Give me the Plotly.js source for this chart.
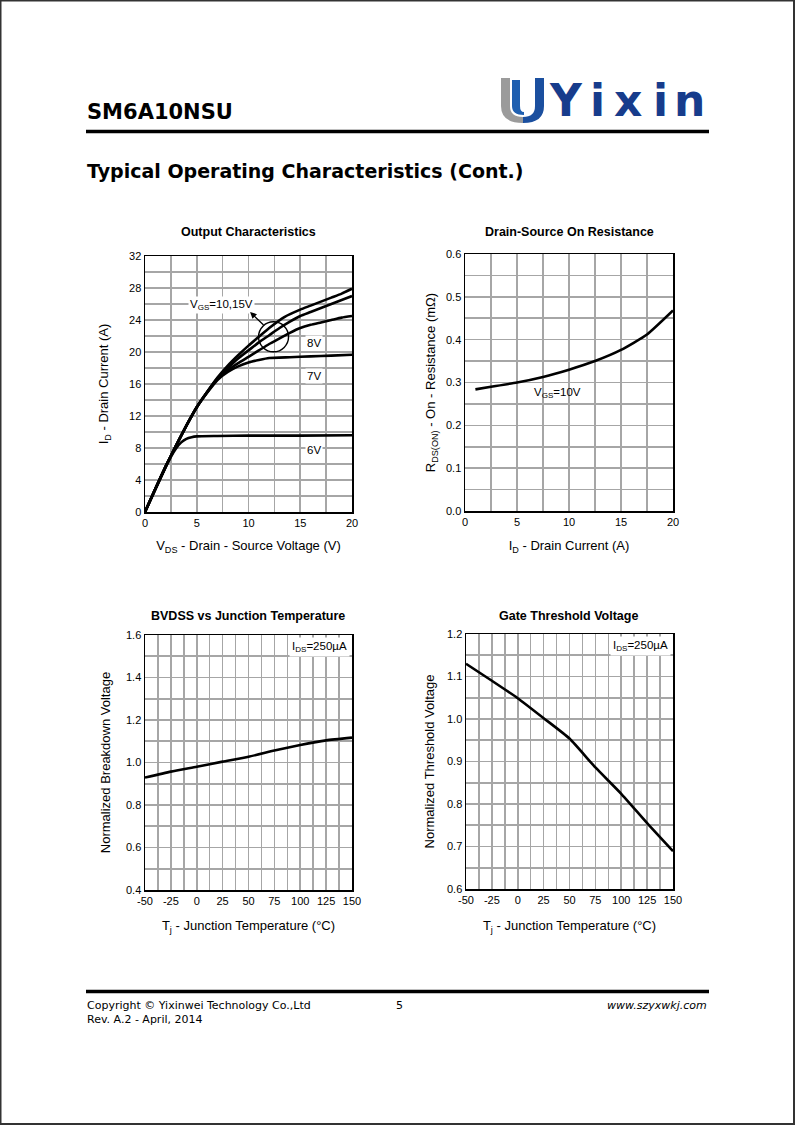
<!DOCTYPE html>
<html>
<head>
<meta charset="utf-8">
<script src="https://cdn.plot.ly/plotly-3.0.1.min.js"></script>
<style>
html,body{margin:0;padding:0;background:#fff;}
#chart{width:795px;height:1125px;}
</style>
</head>
<body>
<div id="chart"></div>
<script>
// ---------- DATA ----------
// Output Characteristics: VDS (V) vs ID (A)
const vds15 = [0, 1, 2, 3, 4, 5, 6, 7, 8, 9, 10, 11, 12, 13.5, 15, 16, 17, 18, 19, 20];
const id15  = [0, 2.9, 5.7, 8.3, 10.8, 13.1, 15.0, 16.8, 18.3, 19.6, 20.8, 21.9, 23.0, 24.4, 25.3, 25.8, 26.3, 26.8, 27.3, 27.9];
const vds10 = [0, 1, 2, 3, 4, 5, 6, 7, 8, 9, 10, 11, 12, 13, 14, 15, 16, 17, 18, 19, 20];
const id10  = [0, 2.9, 5.7, 8.3, 10.8, 13.1, 15.0, 16.7, 18.0, 19.2, 20.2, 21.2, 22.1, 23.0, 23.8, 24.5, 25.0, 25.5, 26.0, 26.5, 27.0];
const vds8  = [0, 1, 2, 3, 4, 5, 6, 7, 8, 9, 10, 11, 12, 13, 14, 15, 16, 17, 18, 19, 20];
const id8   = [0, 2.9, 5.7, 8.3, 10.8, 13.1, 14.95, 16.6, 17.7, 18.6, 19.4, 20.2, 21.0, 21.7, 22.4, 23.0, 23.4, 23.7, 24.0, 24.3, 24.5];
const vds7  = [0, 1, 2, 3, 4, 5, 6, 7, 8, 9, 10, 11, 12, 14, 16, 18, 20];
const id7   = [0, 2.9, 5.7, 8.3, 10.8, 13.1, 14.9, 16.5, 17.5, 18.2, 18.7, 19.0, 19.25, 19.35, 19.45, 19.55, 19.65];
const vds6  = [0, 1, 2, 2.5, 3, 3.5, 4, 4.5, 5, 7, 10, 15, 20];
const id6   = [0, 2.8, 5.6, 6.9, 7.95, 8.7, 9.15, 9.35, 9.45, 9.5, 9.55, 9.55, 9.6];
const outLabels = ["8V", "7V", "6V"];
const outLabelX = [16.3, 16.3, 16.3];
const outLabelY = [21.1, 17.0, 7.75];

// Drain-Source On Resistance: ID (A) vs RDS(ON)
const idRds  = [1, 2.5, 5, 7.5, 10, 12.5, 15, 17.5, 20];
const rdsOn  = [0.284, 0.290, 0.300, 0.313, 0.330, 0.350, 0.376, 0.412, 0.468];

// BVDSS vs Junction Temperature
const tjBv   = [-50, -25, 0, 25, 50, 75, 100, 125, 150];
const bvNorm = [0.929, 0.957, 0.980, 1.004, 1.027, 1.056, 1.082, 1.104, 1.117];

// Gate Threshold Voltage
const tjVth   = [-50, -25, 0, 25, 50, 75, 100, 125, 150];
const vthNorm = [1.130, 1.090, 1.049, 1.002, 0.954, 0.886, 0.824, 0.755, 0.689];

// Temperature tick labels (plain hyphen as in the original)
const tempTicks = [-50, -25, 0, 25, 50, 75, 100, 125, 150];
const tempTickText = ["-50", "-25", "0", "25", "50", "75", "100", "125", "150"];

// ---------- PAGE GEOMETRY ----------
const W = 795, H = 1125;
const px = x => x / W;
const py = y => 1 - y / H;

const FONT = "Liberation Sans, Arial, sans-serif";
const lineStyle = {color: "#000", width: 2.6, shape: "spline", smoothing: 0.5};

function trace(x, y, xa, ya) {
  return {x: x, y: y, xaxis: xa, yaxis: ya, mode: "lines", line: lineStyle, hoverinfo: "skip"};
}

const data = [
  trace(vds15, id15, "x", "y"),
  trace(vds10, id10, "x", "y"),
  trace(vds8, id8, "x", "y"),
  trace(vds7, id7, "x", "y"),
  trace(vds6, id6, "x", "y"),
  trace(idRds, rdsOn, "x2", "y2"),
  trace(tjBv, bvNorm, "x3", "y3"),
  trace(tjVth, vthNorm, "x4", "y4"),
];

function axis(domain, range, dtick, minor, extra) {
  return Object.assign({
    domain: domain, range: range, dtick: dtick, tick0: range[0],
    showgrid: true, gridcolor: "#a6a6a6", gridwidth: 1.6,
    minor: {dtick: minor, tick0: range[0], showgrid: true, gridcolor: "#a6a6a6", gridwidth: 1.6},
    showline: true, linecolor: "#000", linewidth: 1.5, mirror: true,
    zeroline: false, ticks: "", fixedrange: true,
    tickfont: {family: FONT, size: 11, color: "#000"},
  }, extra || {});
}
function title(text, standoff) {
  return {text: text, font: {family: FONT, size: 13, color: "#000"}, standoff: standoff};
}

const d1x = [px(145), px(352)], d1y = [py(512), py(256)];
const d2x = [px(465), px(673)], d2y = [py(511), py(254)];
const d3x = [px(145), px(352)], d3y = [py(890), py(635)];
const d4x = [px(466), px(673)], d4y = [py(889), py(634)];

const tempAxis = {tickmode: "array", tickvals: tempTicks, ticktext: tempTickText};

const layout = {
  width: W, height: H,
  margin: {l: 0, r: 0, t: 0, b: 0},
  paper_bgcolor: "#fff", plot_bgcolor: "#fff",
  showlegend: false,
  xaxis: axis(d1x, [0, 20], 5, 2.5, {anchor: "y", title: title("V<sub>DS</sub> - Drain - Source Voltage (V)", 13)}),
  yaxis: axis(d1y, [0, 32], 4, 2, {anchor: "x", title: title("I<sub>D</sub> - Drain Current (A)", 17)}),
  xaxis2: axis(d2x, [0, 20], 5, 2.5, {anchor: "y2", title: title("I<sub>D</sub> - Drain Current (A)", 14)}),
  yaxis2: axis(d2y, [0, 0.6], 0.1, 0.05, {anchor: "x2", tickformat: ".1f", title: title("R<sub>DS(ON)</sub> - On - Resistance (mΩ)", 7)}),
  xaxis3: axis(d3x, [-50, 150], 25, 12.5, Object.assign({anchor: "y3", title: title("T<sub>j</sub> - Junction Temperature (°C)", 15)}, tempAxis)),
  yaxis3: axis(d3y, [0.4, 1.6], 0.2, 0.1, {anchor: "x3", tickformat: ".1f", title: title("Normalized Breakdown Voltage", 12)}),
  xaxis4: axis(d4x, [-50, 150], 25, 12.5, Object.assign({anchor: "y4", title: title("T<sub>j</sub> - Junction Temperature (°C)", 16)}, tempAxis)),
  yaxis4: axis(d4y, [0.6, 1.2], 0.1, 0.05, {anchor: "x4", tickformat: ".1f", title: title("Normalized Threshold Voltage", 9)}),
  annotations: [],
  shapes: [],
};

const A = layout.annotations, S = layout.shapes;

function ptext(text, x, y, size, opts) {
  A.push(Object.assign({text: text, xref: "paper", yref: "paper", x: px(x), y: py(y),
    showarrow: false, xanchor: "left", yanchor: "middle",
    font: {family: FONT, size: size, color: "#000"}}, opts || {}));
}

// Chart titles
const chartTitles = ["Output Characteristics", "Drain-Source On Resistance", "BVDSS vs Junction Temperature", "Gate Threshold Voltage"];
const titleX = [248, 569, 248, 568], titleY = [232, 232, 616, 616];
chartTitles.forEach((t, i) => ptext("<b>" + t + "</b>", titleX[i], titleY[i], 12.5, {xanchor: "center"}));

// Curve labels (output characteristics)
outLabels.forEach((t, i) => A.push({text: t, xref: "x", yref: "y", x: outLabelX[i], y: outLabelY[i],
  showarrow: false, xanchor: "center", yanchor: "middle", bgcolor: "#fff",
  font: {family: FONT, size: 11.5, color: "#000"}}));
A.push({text: "V<sub>GS</sub>=10,15V", xref: "x", yref: "y", x: 4.15, y: 25.9, showarrow: false,
  xanchor: "left", yanchor: "middle", bgcolor: "#fff", font: {family: FONT, size: 11.5, color: "#000"}});
A.push({text: "", xref: "x", yref: "y", axref: "x", ayref: "y", x: 10.15, y: 25.0, ax: 11.6, ay: 23.2,
  showarrow: true, arrowhead: 2, arrowsize: 1, arrowwidth: 1.3, arrowcolor: "#000"});
S.push({type: "circle", xref: "x", yref: "y", x0: 12.42 - 1.45, x1: 12.42 + 1.45, y0: 21.9 - 1.875, y1: 21.9 + 1.875,
  line: {color: "#000", width: 1.4}});

A.push({text: "V<sub>GS</sub>=10V", xref: "x2", yref: "y2", x: 8.9, y: 0.276, showarrow: false,
  xanchor: "center", yanchor: "middle", font: {family: FONT, size: 11.5, color: "#000"}});

[0, 1].forEach(i => {
  const dom = i === 0 ? d3x : d4x, domy = i === 0 ? d3y : d4y;
  A.push({text: "I<sub>DS</sub>=250µA", xref: "paper", yref: "paper", x: dom[1] - px(2), y: domy[1] - 2 / H,
    showarrow: false, xanchor: "right", yanchor: "top", bgcolor: "#fff", borderpad: 2,
    font: {family: FONT, size: 11.5, color: "#000"}});
});

// Header / footer
const HFONT = "DejaVu Sans, Verdana, sans-serif";
ptext("<b>SM6A10NSU</b>", 85, 112, 21, {font: {family: HFONT, size: 21, color: "#000"}});
ptext("<b>Typical Operating Characteristics (Cont.)</b>", 85, 171, 19, {font: {family: HFONT, size: 19, color: "#000"}});
S.push({type: "line", xref: "paper", yref: "paper", x0: px(86), x1: px(709), y0: py(131.5), y1: py(131.5), line: {color: "#000", width: 3.5}});
S.push({type: "line", xref: "paper", yref: "paper", x0: px(86), x1: px(709), y0: py(991.5), y1: py(991.5), line: {color: "#000", width: 3.5}});
const FFONT = {family: HFONT, size: 11, color: "#000"};
ptext("Copyright © Yixinwei Technology Co.,Ltd", 85, 1005, 11, {font: FFONT});
ptext("Rev. A.2 - April, 2014", 85, 1019, 11, {font: FFONT});
ptext("5", 399, 1005, 11, {font: FFONT, xanchor: "center"});
ptext("<i>www.szyxwkj.com</i>", 709, 1005, 11, {font: FFONT, xanchor: "right"});

// Logo "Yixin"
const logoChars = ["Y", "i", "x", "i", "n"];
const logoX = [566, 597, 628, 660, 689];
const LOGO = {family: "DejaVu Sans, sans-serif", size: 44, color: "#173c8c", weight: "bold"};
logoChars.forEach((c, i) => ptext("<b>" + c + "</b>", logoX[i], 100, 44, {font: LOGO, xanchor: "center"}));

// Logo "U" mark (decorative path in paper coords)
S.push({type: "path", xref: "paper", yref: "paper", fillcolor: "#9b9b9b", line: {width: 0},
  path: "M " + px(501) + "," + py(78) + " L " + px(510) + "," + py(78) + " L " + px(510) + "," + py(106) +
    " Q " + px(510) + "," + py(117) + " " + px(523) + "," + py(117) +
    " L " + px(523) + "," + py(123) +
    " Q " + px(501) + "," + py(123) + " " + px(501) + "," + py(106) + " Z"});
S.push({type: "path", xref: "paper", yref: "paper", fillcolor: "#1f5fb0", line: {width: 0},
  path: "M " + px(512) + "," + py(80) + " L " + px(520) + "," + py(80) + " L " + px(520) + "," + py(106) +
    " Q " + px(520) + "," + py(112) + " " + px(524) + "," + py(112) + " L " + px(524) + "," + py(115) +
    " Q " + px(512) + "," + py(115) + " " + px(512) + "," + py(106) + " Z"});
S.push({type: "path", xref: "paper", yref: "paper", fillcolor: "#1b4f9f", line: {width: 0},
  path: "M " + px(535) + "," + py(78) + " L " + px(544) + "," + py(78) + " L " + px(544) + "," + py(106) +
    " Q " + px(544) + "," + py(123) + " " + px(523) + "," + py(123) + " L " + px(523) + "," + py(117) +
    " Q " + px(535) + "," + py(117) + " " + px(535) + "," + py(106) + " Z"});

// Page border
S.push({type: "rect", xref: "paper", yref: "paper", x0: px(0.5), x1: px(794), y0: py(1124), y1: py(0.5),
  line: {color: "#333", width: 2}});

Plotly.newPlot("chart", data, layout, {staticPlot: true, displayModeBar: false});
</script>
</body>
</html>
